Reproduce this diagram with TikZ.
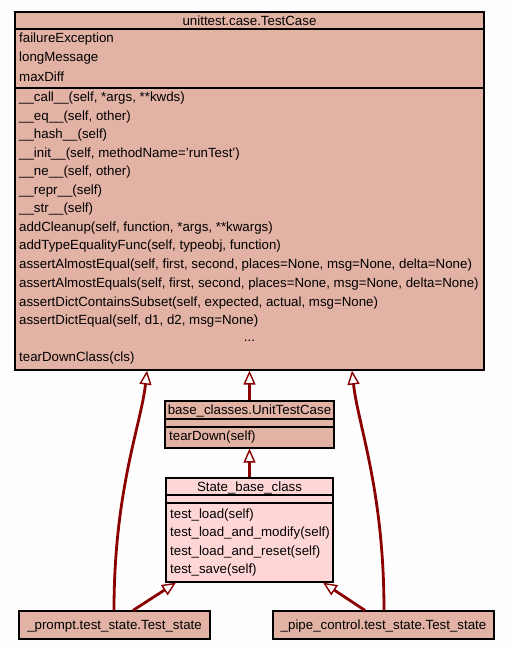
\documentclass[tikz,border=0pt]{standalone}
\usepackage{fontspec}
\setmainfont{Liberation Sans}
\usetikzlibrary{arrows.meta}
\definecolor{boxfill}{HTML}{E2B2A4}
\definecolor{statefill}{HTML}{FFD6D6}
\definecolor{edgecol}{HTML}{8B0000}
\definecolor{bgcol}{HTML}{FDFEFD}
\begin{document}
\begin{tikzpicture}[x=1pt,y=-1pt,
  font=\fontsize{13.3}{16}\selectfont,
  cls/.style={draw=black, line width=1.2pt, fill=boxfill, inner sep=0pt},
  sep/.style={draw=black, line width=1.6pt},
  txt/.style={anchor=west, inner sep=0pt, yshift=-1.5pt},
  ctxt/.style={inner sep=0pt, yshift=-1.5pt},
  inh/.style={draw=edgecol, line width=2.8pt,
    -{Triangle[length=14pt,width=12pt,fill=white,line width=1.4pt]}}]
\fill[bgcol] (0,0) rectangle (509,651);
\useasboundingbox (0,0) rectangle (509,651);

% main class
\node[cls, minimum width=469pt, minimum height=358pt] (main) at (249.5,191) {};
\draw[sep] (15,29) -- (484,29);
\draw[sep] (15,88) -- (484,88);
\node[ctxt] (mt) at (249.5,19) {unittest.case.TestCase};
\node[txt] (a1) at (19,38) {failureException};
\node[txt] (a2) at (19,56.5) {longMessage};
\node[txt] (a3) at (19,75) {maxDiff};
\node[txt] (m1) at (19,97) {\_\_call\_\_(self, *args, **kwds)};
\node[txt] (m2) at (19,115.5) {\_\_eq\_\_(self, other)};
\node[txt] (m3) at (19,134) {\_\_hash\_\_(self)};
\node[txt] (m4) at (19,152.5) {\_\_init\_\_(self, methodName='runTest')};
\node[txt] (m5) at (19,171) {\_\_ne\_\_(self, other)};
\node[txt] (m6) at (19,189.5) {\_\_repr\_\_(self)};
\node[txt] (m7) at (19,208) {\_\_str\_\_(self)};
\node[txt] (m8) at (19,226.5) {addCleanup(self, function, *args, **kwargs)};
\node[txt] (m9) at (19,245) {addTypeEqualityFunc(self, typeobj, function)};
\node[txt] (m10) at (19,264) {assertAlmostEqual(self, first, second, places=None, msg=None, delta=None)};
\node[txt] (m11) at (19,283) {assertAlmostEquals(self, first, second, places=None, msg=None, delta=None)};
\node[txt] (m12) at (19,301.5) {assertDictContainsSubset(self, expected, actual, msg=None)};
\node[txt] (m13) at (19,320) {assertDictEqual(self, d1, d2, msg=None)};
\node[ctxt] (dots) at (249.5,339) {...};
\node[txt] (m14) at (19,357) {tearDownClass(cls)};

% UnitTestCase
\node[cls, minimum width=169pt, minimum height=47pt] (unit) at (249.5,424.5) {};
\draw[sep] (165,419) -- (334,419);
\draw[sep] (165,427) -- (334,427);
\node[ctxt] (ut) at (249.5,409.5) {base\_classes.UnitTestCase};
\node[txt] (u1) at (169,436) {tearDown(self)};

% State_base_class
\node[cls, fill=statefill, minimum width=167pt, minimum height=104pt] (state) at (249.5,530) {};
\draw[sep] (166,495) -- (333,495);
\draw[sep] (166,503) -- (333,503);
\node[ctxt] (st) at (249.5,486.5) {State\_base\_class};
\node[txt] (s1) at (170,513.5) {test\_load(self)};
\node[txt] (s2) at (170,532) {test\_load\_and\_modify(self)};
\node[txt] (s3) at (170,550.5) {test\_load\_and\_reset(self)};
\node[txt] (s4) at (170,569) {test\_save(self)};

% leaf classes
\node[cls, minimum width=191pt, minimum height=28pt] (prompt) at (114.5,625) {};
\node[ctxt] (pt) at (114.5,625) {\_prompt.test\_state.Test\_state};
\node[cls, minimum width=221pt, minimum height=28pt] (pipe) at (383.5,625) {};
\node[ctxt] (pp) at (383.5,625) {\_pipe\_control.test\_state.Test\_state};

% inheritance edges
\draw[inh] (unit.north) -- (main.south);
\draw[inh] (state.north) -- (unit.south);
\draw[inh] ([xshift=-0.5pt]prompt.north) .. controls (114,490) and (141,425) .. ([xshift=-102.5pt]main.south);
\draw[inh] ([xshift=0.5pt]pipe.north) .. controls (384,490) and (358,425) .. ([xshift=102.5pt]main.south);
\draw[inh] ([xshift=18.5pt]prompt.north) -- ([xshift=-73.5pt]state.south);
\draw[inh] ([xshift=-18.5pt]pipe.north) -- ([xshift=73.5pt]state.south);
\end{tikzpicture}
\end{document}
